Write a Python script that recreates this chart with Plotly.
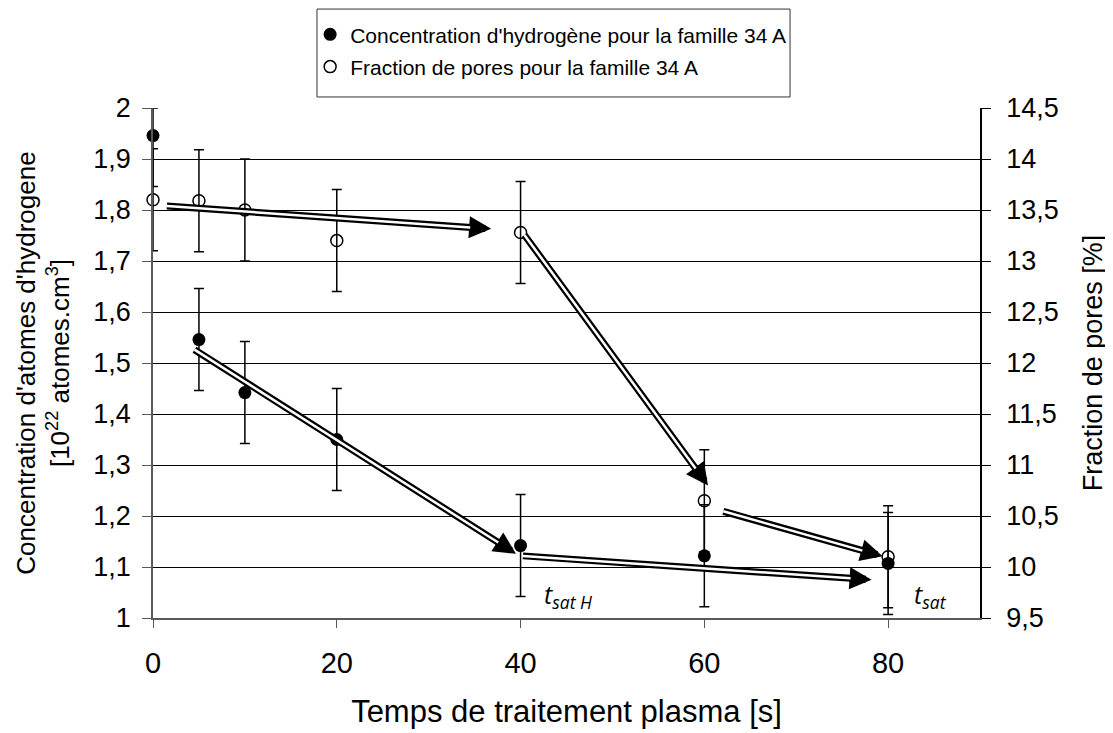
import plotly.graph_objects as go

# ---- data ----
times = [0, 5, 10, 20, 40, 60, 80]
h_conc = [1.946, 1.546, 1.442, 1.35, 1.142, 1.122, 1.107]
h_err = [0.1, 0.1, 0.1, 0.1, 0.1, 0.1, 0.1]
pores = [13.6, 13.59, 13.5, 13.2, 13.28, 10.65, 10.1]
pores_err = [0.5, 0.5, 0.5, 0.5, 0.5, 0.5, 0.5]

Y1_RANGE = [1, 2]
Y2_RANGE = [9.5, 14.5]
X_RANGE = [0, 90]

# arrows: (tail_x, tail_y, tip_x, tip_y, axis)
arrows = [
    (1.35, 13.54, 36.8, 13.315, "y2"),
    (40.3, 13.27, 60.4, 10.80, "y2"),
    (61.9, 10.55, 79.4, 10.105, "y2"),
    (4.35, 1.528, 39.5, 1.126, "y"),
    (40.1, 1.122, 78.2, 1.075, "y"),
]

labels = [
    (42.3, 1.045, "<i>t<sub>sat H</sub></i>"),
    (82.6, 1.045, "<i>t<sub>sat</sub></i>"),
]

FONT = "Liberation Sans, Arial, sans-serif"

# clip error bars at the axis range (as the original chart does)
h_err_plus = [min(v + e, Y1_RANGE[1]) - v for v, e in zip(h_conc, h_err)]
p_err_plus = [min(v + e, Y2_RANGE[1]) - v for v, e in zip(pores, pores_err)]

fig = go.Figure()
fig.add_trace(go.Scatter(
    x=times, y=h_conc, mode="markers",
    name="Concentration d'hydrogène pour la famille 34 A",
    legendgroup="a",
    marker=dict(symbol="circle", size=13, color="black"),
    error_y=dict(type="data", array=h_err_plus, arrayminus=h_err,
                 color="black", thickness=1.5, width=5),
    cliponaxis=False, yaxis="y",
))
fig.add_trace(go.Scatter(
    x=times, y=pores, mode="markers",
    name="Fraction de pores pour la famille 34 A",
    legendgroup="b",
    marker=dict(symbol="circle-open", size=12, color="black", line=dict(width=1.5)),
    error_y=dict(type="data", array=p_err_plus, arrayminus=pores_err,
                 color="black", thickness=1.5, width=5),
    cliponaxis=False, yaxis="y2",
))

annotations = []
for tx, ty, hx, hy, ax in arrows:
    annotations.append(dict(
        x=hx, y=hy, ax=tx, ay=ty, xref="x", yref=ax, axref="x", ayref=ax,
        text="", showarrow=True, arrowhead=2, arrowsize=0.63, arrowwidth=7,
        arrowcolor="black",
    ))
    annotations.append(dict(
        x=hx, y=hy, ax=tx, ay=ty, xref="x", yref=ax, axref="x", ayref=ax,
        text="", showarrow=True, arrowhead=0, arrowwidth=2.5,
        arrowcolor="white", standoff=21,
    ))
for lx, ly, txt in labels:
    annotations.append(dict(
        x=lx, y=ly, xref="x", yref="y", text=txt, showarrow=False,
        xanchor="left", yanchor="middle",
        font=dict(family="Open Sans, sans-serif", size=25, color="black"),
    ))

fig.update_layout(
    width=1105, height=725,
    margin=dict(l=145, r=133, t=100, b=115, autoexpand=False),
    paper_bgcolor="white", plot_bgcolor="white",
    separators=", ",
    font=dict(family=FONT, size=27, color="black"),
    showlegend=True,
    legend=dict(
        x=0.19, y=1.184, xanchor="left", yanchor="top",
        borderwidth=0, bgcolor="rgba(0,0,0,0)",
        font=dict(family=FONT, size=21, color="black"),
        itemwidth=30, tracegroupgap=2, traceorder="grouped",
    ),
    shapes=[dict(
        type="rect", xref="paper", yref="paper",
        x0=0.1983, x1=0.7703, y0=1.0216, y1=1.194,
        line=dict(color="#333333", width=1), fillcolor="rgba(0,0,0,0)", layer="below",
    )],
    annotations=annotations,
    xaxis=dict(
        range=X_RANGE, tickmode="linear", tick0=0, dtick=20,
        showgrid=False, zeroline=False,
        showline=True, linecolor="#595959", linewidth=1.5,
        ticks="outside", ticklen=8, tickcolor="#595959",
        tickfont=dict(size=29), ticklabelstandoff=10,
        title=dict(text="Temps de traitement plasma [s]", font=dict(size=31), standoff=23),
    ),
    yaxis=dict(
        range=Y1_RANGE, tickmode="linear", tick0=1, dtick=0.1,
        showgrid=True, gridcolor="black", gridwidth=1, zeroline=False,
        showline=True, linecolor="#595959", linewidth=1.5,
        ticks="outside", ticklen=9, tickcolor="#595959",
        tickfont=dict(size=27), ticklabelstandoff=6,
        title=dict(text="Concentration d'atomes d'hydrogene<br>[10<sup>22</sup> atomes.cm<sup>3</sup>]",
                   font=dict(size=26), standoff=16),
    ),
    yaxis2=dict(
        range=Y2_RANGE, tickmode="linear", tick0=9.5, dtick=0.5,
        overlaying="y", side="right", showgrid=False, zeroline=False,
        showline=True, linecolor="black", linewidth=1.5,
        ticks="outside", ticklen=9, tickcolor="black",
        tickfont=dict(size=27), ticklabelstandoff=10,
        title=dict(text="Fraction de pores [%]", font=dict(size=27), standoff=25),
    ),
)

fig.write_html("out.html")
